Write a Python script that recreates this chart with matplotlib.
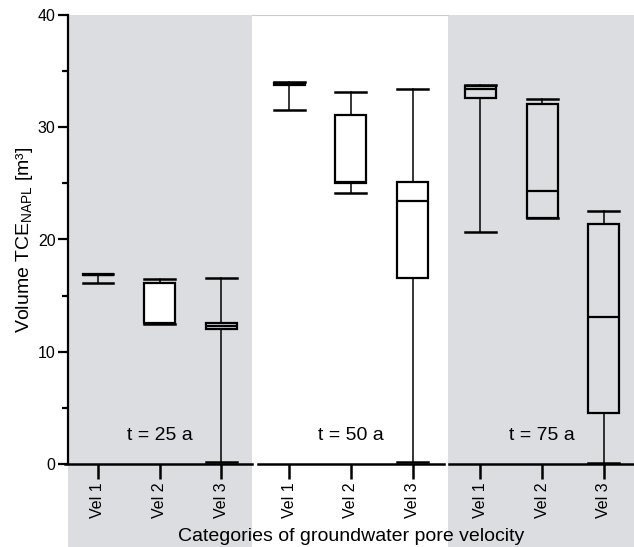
import matplotlib
matplotlib.use('Agg')
import matplotlib.pyplot as plt
from matplotlib.patches import Rectangle
from matplotlib.transforms import blended_transform_factory
from matplotlib.ticker import MultipleLocator

plt.rcParams['font.family'] = ['Liberation Sans', 'DejaVu Sans']
plt.rcParams['mathtext.fontset'] = 'custom'
plt.rcParams['mathtext.rm'] = 'Liberation Sans'
plt.rcParams['mathtext.it'] = 'Liberation Sans:italic'
plt.rcParams['mathtext.bf'] = 'Liberation Sans:bold'

# data (m3), three velocity classes for each time step
periods = ['t = 25 a', 't = 50 a', 't = 75 a']
tick_labels = ['Vel 1', 'Vel 2', 'Vel 3'] * 3
whislo = [16.15, 12.5, 0.2, 31.55, 24.1, 0.2, 20.7, 21.9, 0.05]
q1 = [16.8, 12.55, 12.05, 33.75, 25.05, 16.6, 32.6, 21.95, 4.5]
med = [16.85, 12.6, 12.3, 33.85, 25.1, 23.45, 33.45, 24.3, 13.1]
q3 = [16.9, 16.1, 12.6, 33.95, 31.1, 25.15, 33.7, 32.05, 21.4]
whishi = [16.95, 16.5, 16.55, 34.0, 33.15, 33.4, 33.75, 32.5, 22.5]

positions = [0, 1, 2, 3.1, 4.1, 5.1, 6.2, 7.2, 8.2]
panel_edges = [-0.486, 2.496, 5.67, 8.69]
axis_segments = [(-0.53, 2.496), (2.59, 5.61), (5.69, 8.69)]
shade = '#dcdde0'

fig = plt.figure(figsize=(6.34, 5.47), dpi=100)
ax = fig.add_axes([68 / 634, 83 / 547, 566 / 634, 449 / 547])
ax.patch.set_visible(False)

# grey / white / grey background bands, running down under the tick labels
trans = blended_transform_factory(ax.transData, ax.transAxes)
for i in range(3):
    x0, x1 = panel_edges[i], panel_edges[i + 1]
    if i == 1:
        ax.add_patch(Rectangle((x0, -0.19), x1 - x0, 1.19, transform=trans,
                               facecolor='white', edgecolor='none', clip_on=False, zorder=0))
        ax.plot([x0, x1], [1, 1], transform=trans, color='#c9ccd1', lw=0.8, clip_on=False, zorder=0.5)
    else:
        ax.add_patch(Rectangle((x0, -0.19), x1 - x0, 1.19, transform=trans,
                               facecolor=shade, edgecolor='none', clip_on=False, zorder=0))

stats = []
for i in range(len(positions)):
    stats.append({'whislo': whislo[i], 'q1': q1[i], 'med': med[i], 'q3': q3[i],
                  'whishi': whishi[i], 'fliers': []})

bp = ax.bxp(stats, positions=positions, widths=0.5, capwidths=0.5, patch_artist=True,
            boxprops=dict(linewidth=1.6, edgecolor='black', facecolor='none'),
            medianprops=dict(linewidth=1.6, color='black'),
            whiskerprops=dict(linewidth=1.1, color='black'),
            capprops=dict(linewidth=1.8, color='black'),
            manage_ticks=False)
bp['boxes'][1].set_facecolor('white')
for b in bp['boxes']:
    b.set_zorder(3)

# broken x axis line
ax.spines['bottom'].set_visible(False)
ax.spines['top'].set_visible(False)
ax.spines['right'].set_visible(False)
ax.spines['left'].set_linewidth(1.6)
for x0, x1 in axis_segments:
    ax.plot([x0, x1], [0, 0], color='black', lw=1.8, clip_on=False, zorder=4)

for i, label in enumerate(periods):
    ax.text(positions[3 * i + 1], 2.5, label, ha='center', va='center', fontsize=14)

ax.set_xlim(panel_edges[0], panel_edges[-1])
ax.set_ylim(0, 40)
ax.yaxis.set_major_locator(MultipleLocator(10))
ax.yaxis.set_minor_locator(MultipleLocator(5))
ax.set_xticks(positions)
ax.set_xticklabels(tick_labels, rotation=90)
ax.tick_params(axis='y', which='major', length=7, width=1.6, labelsize=11.5, pad=2)
ax.tick_params(axis='y', which='minor', length=4, width=1.6)
ax.tick_params(axis='x', length=11, width=1.8, labelsize=11.5, pad=2.5)

ax.set_ylabel('Volume TCE$_{\\mathrm{NAPL}}$ [m³]', fontsize=14, labelpad=2)
ax.set_xlabel('Categories of groundwater pore velocity', fontsize=14, labelpad=7)

fig.savefig('out.png', dpi=100)
